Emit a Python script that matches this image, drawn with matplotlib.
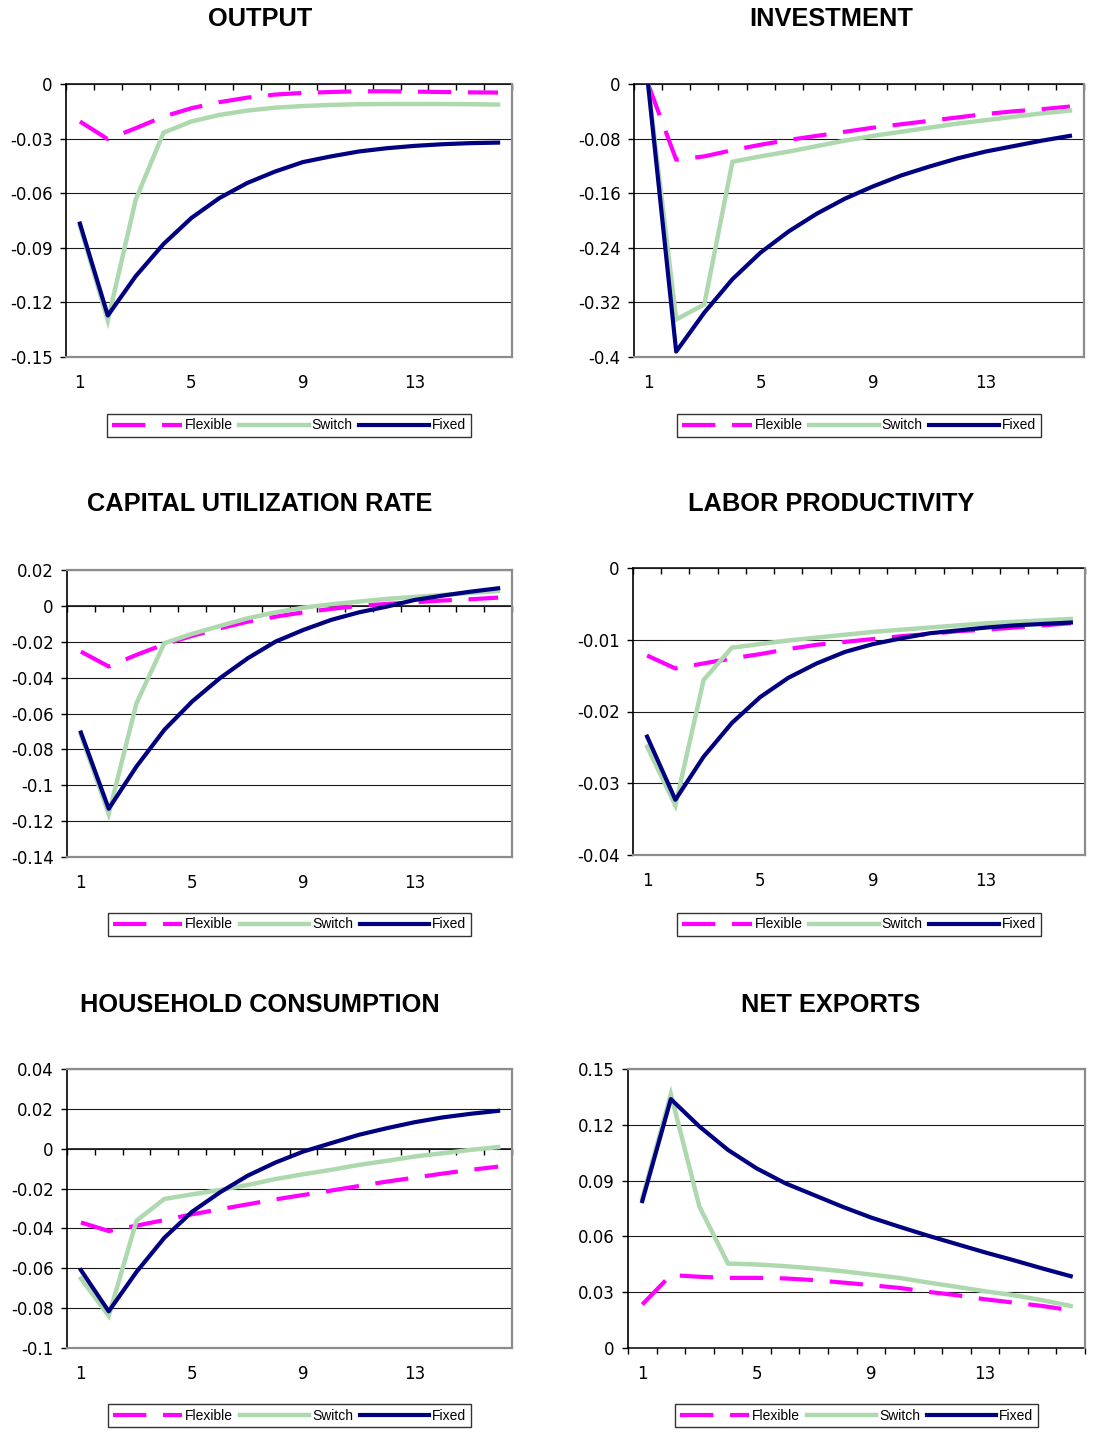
import numpy as np
import matplotlib.pyplot as plt
from matplotlib.lines import Line2D

# periods after the shock
periods = np.arange(1, 17)
xtick_pos = [1, 5, 9, 13]
series_names = ['Flexible', 'Switch', 'Fixed']

# OUTPUT
output_flexible = [-0.0206, -0.0303, -0.0243, -0.0179, -0.0133, -0.0100, -0.0075, -0.0058,
                   -0.0049, -0.0044, -0.0040, -0.0040, -0.0042, -0.0044, -0.0046, -0.0047]
output_switch = [-0.0780, -0.1300, -0.0636, -0.0267, -0.0206, -0.0170, -0.0146, -0.0130,
                 -0.0121, -0.0115, -0.0111, -0.0110, -0.0110, -0.0110, -0.0111, -0.0113]
output_fixed = [-0.0767, -0.1272, -0.1056, -0.0879, -0.0736, -0.0627, -0.0544, -0.0481,
                -0.0429, -0.0398, -0.0371, -0.0353, -0.0340, -0.0331, -0.0325, -0.0322]
output_yticks = [0, -0.03, -0.06, -0.09, -0.12, -0.15]

# INVESTMENT
invest_flexible = [0.0, -0.111, -0.106, -0.097, -0.089, -0.082, -0.076, -0.070,
                   -0.064, -0.059, -0.054, -0.049, -0.044, -0.040, -0.037, -0.033]
invest_switch = [0.0, -0.345, -0.323, -0.114, -0.106, -0.099, -0.091, -0.083,
                 -0.076, -0.070, -0.064, -0.058, -0.053, -0.048, -0.043, -0.039]
invest_fixed = [0.0, -0.392, -0.335, -0.286, -0.247, -0.216, -0.190, -0.168,
                -0.150, -0.134, -0.121, -0.109, -0.099, -0.091, -0.083, -0.076]
invest_yticks = [0, -0.08, -0.16, -0.24, -0.32, -0.4]

# CAPITAL UTILIZATION RATE
caput_flexible = [-0.0255, -0.0338, -0.0273, -0.0214, -0.0167, -0.0125, -0.0088, -0.0060,
                  -0.0036, -0.0017, 0.0000, 0.0011, 0.0020, 0.0030, 0.0037, 0.0046]
caput_switch = [-0.0720, -0.1160, -0.0542, -0.0208, -0.0156, -0.0112, -0.0069, -0.0036,
                -0.0010, 0.0009, 0.0024, 0.0039, 0.0050, 0.0061, 0.0072, 0.0083]
caput_fixed = [-0.0706, -0.1131, -0.0895, -0.0691, -0.0533, -0.0403, -0.0292, -0.0199,
               -0.0134, -0.0078, -0.0036, -0.0004, 0.0033, 0.0057, 0.0079, 0.0098]
caput_yticks = [0.02, 0, -0.02, -0.04, -0.06, -0.08, -0.1, -0.12, -0.14]

# LABOR PRODUCTIVITY
labor_flexible = [-0.0122, -0.0140, -0.0133, -0.0126, -0.0120, -0.0113, -0.0107, -0.0103,
                  -0.0099, -0.0095, -0.0092, -0.0088, -0.0086, -0.0083, -0.0080, -0.0077]
labor_switch = [-0.0249, -0.0331, -0.0156, -0.0111, -0.0106, -0.0101, -0.0097, -0.0093,
                -0.0089, -0.0086, -0.0083, -0.0080, -0.0077, -0.0075, -0.0073, -0.0071]
labor_fixed = [-0.0235, -0.0323, -0.0263, -0.0216, -0.0180, -0.0153, -0.0133, -0.0117,
               -0.0106, -0.0098, -0.0091, -0.0087, -0.0083, -0.0080, -0.0078, -0.0076]
labor_yticks = [0, -0.01, -0.02, -0.03, -0.04]

# HOUSEHOLD CONSUMPTION
cons_flexible = [-0.0370, -0.0413, -0.0386, -0.0358, -0.0329, -0.0304, -0.0279, -0.0254,
                 -0.0232, -0.0210, -0.0187, -0.0165, -0.0145, -0.0125, -0.0106, -0.0090]
cons_switch = [-0.0651, -0.0839, -0.0361, -0.0252, -0.0229, -0.0207, -0.0182, -0.0152,
               -0.0128, -0.0106, -0.0081, -0.0061, -0.0039, -0.0023, -0.0006, 0.0008]
cons_fixed = [-0.0609, -0.0816, -0.0618, -0.0447, -0.0316, -0.0219, -0.0135, -0.0069,
              -0.0014, 0.0028, 0.0070, 0.0103, 0.0133, 0.0157, 0.0175, 0.0190]
cons_yticks = [0.04, 0.02, 0, -0.02, -0.04, -0.06, -0.08, -0.1]

# NET EXPORTS
nx_flexible = [0.0234, 0.0392, 0.0383, 0.0377, 0.0377, 0.0374, 0.0365, 0.0352,
               0.0338, 0.0323, 0.0302, 0.0284, 0.0262, 0.0244, 0.0226, 0.0203]
nx_switch = [0.0805, 0.1365, 0.0760, 0.0454, 0.0449, 0.0440, 0.0428, 0.0413,
             0.0395, 0.0377, 0.0352, 0.0329, 0.0305, 0.0284, 0.0257, 0.0226]
nx_fixed = [0.0790, 0.1338, 0.1191, 0.1065, 0.0966, 0.0886, 0.0823, 0.0760,
            0.0702, 0.0652, 0.0604, 0.0559, 0.0514, 0.0472, 0.0428, 0.0386]
nx_yticks = [0.15, 0.12, 0.09, 0.06, 0.03, 0]

W, H = 1095, 1437
fig = plt.figure(figsize=(W / 100, H / 100), dpi=100)

styles = [
    dict(color='#FF00FF', lw=3, linestyle=(0, (8, 4)), solid_capstyle='butt', dash_capstyle='butt'),
    dict(color='#AED8AE', lw=3.2, solid_joinstyle='miter'),
    dict(color='#000080', lw=3, solid_joinstyle='round'),
]

# (title, data, yticks, axes box in px: left, top, right, bottom, title pos, legend y)
panels = [
    ('OUTPUT', (output_flexible, output_switch, output_fixed), output_yticks,
     (66, 84, 512, 357), (260, 19), 425.5),
    ('INVESTMENT', (invest_flexible, invest_switch, invest_fixed), invest_yticks,
     (634, 84, 1084, 357), (831, 19), 425.5),
    ('CAPITAL UTILIZATION RATE', (caput_flexible, caput_switch, caput_fixed), caput_yticks,
     (67, 570, 512, 857), (260, 504), 924.5),
    ('LABOR PRODUCTIVITY', (labor_flexible, labor_switch, labor_fixed), labor_yticks,
     (633, 568, 1085, 855), (831, 504), 924.5),
    ('HOUSEHOLD CONSUMPTION', (cons_flexible, cons_switch, cons_fixed), cons_yticks,
     (67, 1069, 512, 1348), (260, 1005), 1415.5),
    ('NET EXPORTS', (nx_flexible, nx_switch, nx_fixed), nx_yticks,
     (628, 1069, 1085, 1348), (831, 1005), 1415.5),
]

for title, data, yticks, (l, t, r, b), (tx, ty), legy in panels:
    ax = fig.add_axes([l / W, 1 - b / H, (r - l) / W, (b - t) / H])
    for vals, name, st in zip(data, series_names, styles):
        ax.plot(periods, vals, label=name, **st)

    ymin, ymax = min(yticks), max(yticks)
    ax.set_xlim(0.5, 16.5)
    ax.set_ylim(ymin, ymax)
    ax.set_yticks(yticks)
    ax.set_yticklabels(['%g' % v for v in yticks])
    ax.yaxis.grid(True, color='#1a1a1a', lw=0.8)
    ax.tick_params(axis='y', direction='out', length=4.5, width=1, pad=5,
                   labelsize=12, colors='black')

    # bottom tick labels only
    ax.set_xticks([])
    ax.set_xticks(xtick_pos, minor=True)
    ax.set_xticklabels([str(v) for v in xtick_pos], minor=True)
    ax.tick_params(axis='x', which='minor', length=0, pad=12, labelsize=12)

    for side in ('top', 'right', 'bottom'):
        ax.spines[side].set_color('#8c8c8c')
        ax.spines[side].set_linewidth(1.6)
    ax.spines['left'].set_color('black')
    ax.spines['left'].set_linewidth(1.2)
    if ymax == 0:
        ax.spines['top'].set_visible(False)
    if ymin == 0:
        ax.spines['bottom'].set_visible(False)

    # category axis crossing at zero with ticks between categories
    frac = (0 - ymin) / (ymax - ymin)
    sec = ax.secondary_xaxis(frac)
    sec.patch.set_visible(False)
    sec.set_xticks(np.arange(0.5, 17, 1))
    sec.set_xticklabels([])
    sec.tick_params(axis='x', direction='in' if frac >= 0.5 else 'out',
                    length=4, width=1, color='black')
    for sp in sec.spines.values():
        sp.set_color('black')
        sp.set_linewidth(1.1)

    fig.text(tx / W, 1 - ty / H, title, ha='center', va='center',
             fontsize=18.3, fontweight='bold', family='Liberation Sans')

    handles = [Line2D([], [], **st) for st in styles]
    leg = fig.legend(handles, series_names, loc='center',
                     bbox_to_anchor=((l + r) / 2 / W, 1 - legy / H),
                     bbox_transform=fig.transFigure, ncol=3, frameon=True,
                     fancybox=False, handlelength=5, handletextpad=0.2,
                     columnspacing=0.5, borderpad=0.35, borderaxespad=0,
                     prop={'family': 'Liberation Sans', 'size': 10})
    leg.get_frame().set_edgecolor('black')
    leg.get_frame().set_linewidth(1.0)

fig.savefig('out.png', dpi=100)
